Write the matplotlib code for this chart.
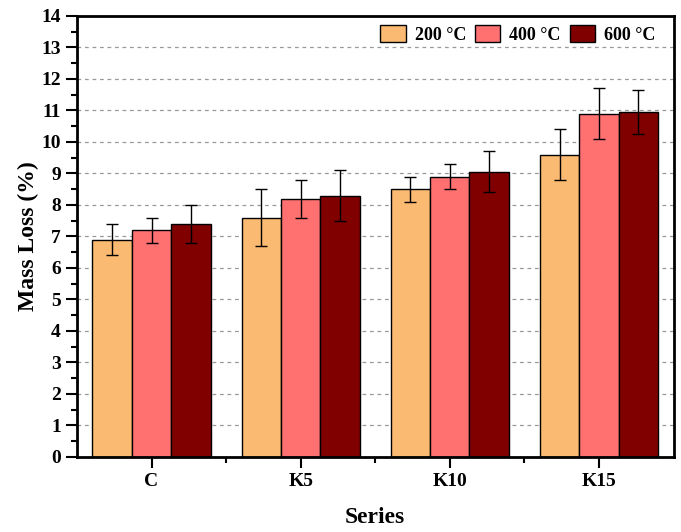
import numpy as np
import matplotlib
matplotlib.use("Agg")
import matplotlib.pyplot as plt
from matplotlib.ticker import MultipleLocator

# data
series = ["C", "K5", "K10", "K15"]
temps = ["200 °C", "400 °C", "600 °C"]
loss_200 = [6.9, 7.6, 8.5, 9.6]
loss_400 = [7.2, 8.2, 8.9, 10.9]
loss_600 = [7.4, 8.3, 9.05, 10.95]
err_200 = [0.5, 0.9, 0.4, 0.8]
err_400 = [0.4, 0.6, 0.4, 0.8]
err_600 = [0.6, 0.8, 0.65, 0.7]

colors = ["#FABA72", "#FF7070", "#800000"]


def main():
    plt.rcParams["font.family"] = "Liberation Serif"
    plt.rcParams["font.weight"] = "bold"

    fig = plt.figure(figsize=(6.81, 5.32), dpi=100)
    ax = fig.add_axes([0.113, 0.141, 0.876, 0.829])

    x = np.arange(len(series))
    width = 0.264
    values = [loss_200, loss_400, loss_600]
    errors = [err_200, err_400, err_600]

    for i in range(3):
        ax.bar(x + (i - 1) * width, values[i], width, color=colors[i],
               edgecolor="black", linewidth=1.0, label=temps[i], zorder=2,
               yerr=errors[i], capsize=4.5,
               error_kw=dict(ecolor="black", elinewidth=1.0, capthick=1.0))

    ax.set_xlim(-0.5, 3.5)
    ax.set_ylim(0, 14)
    ax.set_xticks(x)
    ax.set_xticklabels(series)
    ax.set_xticks([0.5, 1.5, 2.5], minor=True)
    ax.yaxis.set_major_locator(MultipleLocator(1))
    ax.yaxis.set_minor_locator(MultipleLocator(0.5))

    ax.tick_params(axis="both", which="major", direction="out", length=8,
                   width=1.5, labelsize=14)
    ax.tick_params(axis="both", which="minor", direction="out", length=4,
                   width=1.5)
    for lab in ax.get_xticklabels() + ax.get_yticklabels():
        lab.set_fontweight("bold")

    ax.grid(axis="y", which="major", linestyle=(0, (3, 3)), color="#999999",
            linewidth=0.9, zorder=0)
    ax.set_axisbelow(True)

    for sp in ax.spines.values():
        sp.set_linewidth(2)

    ax.set_xlabel("Series", fontsize=17, fontweight="bold", labelpad=12)
    ax.set_ylabel("Mass Loss (%)", fontsize=17, fontweight="bold", labelpad=2)

    leg = ax.legend(loc="upper right", ncol=3, frameon=False, fontsize=13,
                    handlelength=1.4, handleheight=1.1, columnspacing=0.5,
                    handletextpad=0.5, borderaxespad=0.1,
                    bbox_to_anchor=(0.985, 1.0))
    for t in leg.get_texts():
        t.set_fontweight("bold")

    fig.savefig("out.png", dpi=100)


if __name__ == "__main__":
    main()
